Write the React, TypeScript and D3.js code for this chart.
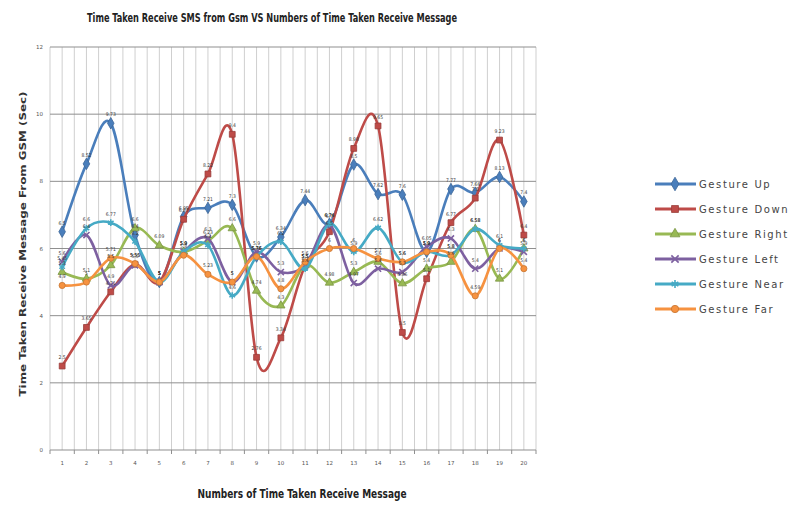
import React, { useEffect, useRef } from "react";
import * as d3 from "d3";

// x categories (message number)
const categories = ["1", "2", "3", "4", "5", "6", "7", "8", "9", "10", "11", "12", "13", "14", "15", "16", "17", "18", "19", "20"];
const yTicks = [0, 2, 4, 6, 8, 10, 12];

// time (sec)
const gestureUp = [6.5, 8.52, 9.73, 6.4, 5.0, 6.95, 7.21, 7.3, 5.76, 6.34, 7.44, 6.74, 8.5, 7.62, 7.6, 5.9, 7.77, 7.66, 8.13, 7.4];
const gestureDown = [2.5, 3.65, 4.71, 5.53, 5.0, 6.87, 8.22, 9.4, 2.76, 3.34, 5.5, 6.5, 8.98, 9.65, 3.5, 5.1, 6.77, 7.5, 9.23, 6.4];
const gestureRight = [5.3, 5.1, 5.5, 6.6, 6.09, 5.9, 6.23, 6.6, 4.74, 4.3, 5.5, 4.98, 5.3, 5.6, 4.96, 5.4, 5.6, 6.58, 5.1, 6.0];
const gestureLeft = [5.6, 6.4, 4.9, 5.5, 5.0, 5.9, 6.3, 5.0, 5.9, 5.3, 5.5, 6.7, 4.97, 5.4, 5.3, 6.05, 6.3, 5.4, 6.0, 5.9];
const gestureNear = [5.45, 6.6, 6.77, 6.2, 5.0, 5.9, 6.1, 4.6, 5.76, 6.2, 5.4, 6.74, 5.9, 6.62, 5.6, 5.9, 5.8, 6.58, 6.1, 6.0];
const gestureFar = [4.9, 5.0, 5.71, 5.55, 5.0, 5.8, 5.23, 5.0, 5.76, 4.8, 5.6, 6.0, 6.0, 5.7, 5.6, 5.9, 5.8, 4.59, 6.0, 5.4];

const seriesNames = ["Gesture Up", "Gesture Down", "Gesture Right", "Gesture Left", "Gesture Near", "Gesture Far"];
const seriesValues = [gestureUp, gestureDown, gestureRight, gestureLeft, gestureNear, gestureFar];
const seriesColors = ["#4a7ebb", "#be4b48", "#98b954", "#7d60a0", "#46aac5", "#f69240"];

const W = 810, H = 506;

const App = () => {
  const svgRef = useRef(null);

  useEffect(() => {
    const svg = d3.select(svgRef.current);
    svg.selectAll("*").remove();

    const x = d3.scaleBand().domain(categories).range([50, 536]);
    const y = d3.scaleLinear().domain([0, 12]).range([450, 47]);
    const cx = (i) => x(categories[i]) + x.bandwidth() / 2;

    const symbols = [d3.symbolDiamond, d3.symbolSquare, d3.symbolTriangle, d3.symbolX, d3.symbolAsterisk, d3.symbolCircle];
    const stroked = [false, false, false, true, true, false];
    const sizes = [38, 34, 30, 26, 30, 30];

    svg.append("rect").attr("width", W).attr("height", H).attr("fill", "#fff");

    // vertical grid: band edges and centres
    const grid = svg.append("g");
    const vx = [];
    categories.forEach((c, i) => { vx.push(x(c)); vx.push(cx(i)); });
    vx.push(x.range()[1]);
    grid.selectAll("line.v").data(vx).enter().append("line")
      .attr("x1", d => d).attr("x2", d => d)
      .attr("y1", y(12)).attr("y2", y(0))
      .attr("stroke", "#cfcfcf").attr("stroke-width", 1);

    grid.selectAll("line.h").data(yTicks).enter().append("line")
      .attr("x1", 50).attr("x2", 536)
      .attr("y1", d => y(d)).attr("y2", d => y(d))
      .attr("stroke", "#8f8f8f").attr("stroke-width", 1);

    // x axis ticks
    grid.selectAll("line.t").data(categories.map((c) => x(c)).concat([536])).enter().append("line")
      .attr("x1", d => d).attr("x2", d => d)
      .attr("y1", y(0)).attr("y2", y(0) + 4)
      .attr("stroke", "#8f8f8f");

    svg.append("g").selectAll("text").data(yTicks).enter().append("text")
      .attr("x", 43).attr("y", d => y(d) + 2)
      .attr("text-anchor", "end")
      .attr("font-family", "DejaVu Sans, sans-serif").attr("font-size", 5.5).attr("fill", "#555")
      .text(d => d);

    svg.append("g").selectAll("text").data(categories).enter().append("text")
      .attr("x", (d, i) => cx(i)).attr("y", 465)
      .attr("text-anchor", "middle")
      .attr("font-family", "DejaVu Sans, sans-serif").attr("font-size", 5.5).attr("fill", "#555")
      .text(d => d);

    const line = d3.line()
      .x((d, i) => cx(i))
      .y(d => y(d))
      .curve(d3.curveCardinal.tension(0));

    seriesValues.forEach((vals, s) => {
      const g = svg.append("g");
      g.append("path").attr("d", line(vals))
        .attr("fill", "none").attr("stroke", seriesColors[s]).attr("stroke-width", 2.6);
      g.selectAll("path.m").data(vals).enter().append("path")
        .attr("transform", (d, i) => `translate(${cx(i)},${y(d)})`)
        .attr("d", d3.symbol().type(symbols[s]).size(sizes[s]))
        .attr("fill", stroked[s] ? "none" : seriesColors[s])
        .attr("stroke", stroked[s] ? seriesColors[s] : d3.color(seriesColors[s]).darker(0.6))
        .attr("stroke-width", stroked[s] ? 1.6 : 0.8);
    });

    // data labels
    seriesValues.forEach((vals) => {
      svg.append("g").selectAll("text").data(vals).enter().append("text")
        .attr("x", (d, i) => cx(i)).attr("y", d => y(d) - 7)
        .attr("text-anchor", "middle")
        .attr("font-family", "DejaVu Sans Condensed, DejaVu Sans, sans-serif")
        .attr("font-size", 5).attr("fill", "#3a3a3a")
        .text(d => d);
    });

    svg.append("text")
      .attr("x", 272).attr("y", 22).attr("text-anchor", "middle")
      .attr("font-family", "Liberation Sans Narrow, DejaVu Sans Condensed, sans-serif")
      .attr("font-weight", "bold").attr("font-size", 12.5).attr("fill", "#222")
      .attr("textLength", 370).attr("lengthAdjust", "spacingAndGlyphs")
      .text("Time Taken Receive SMS from Gsm VS Numbers of Time Taken Receive Message");

    svg.append("text")
      .attr("x", 302).attr("y", 498).attr("text-anchor", "middle")
      .attr("font-family", "Liberation Sans Narrow, DejaVu Sans Condensed, sans-serif")
      .attr("font-weight", "bold").attr("font-size", 13).attr("fill", "#222")
      .attr("textLength", 209).attr("lengthAdjust", "spacingAndGlyphs")
      .text("Numbers of Time Taken Receive Message");

    svg.append("text")
      .attr("transform", "translate(26,244) rotate(-90)")
      .attr("text-anchor", "middle")
      .attr("font-family", "DejaVu Sans, sans-serif")
      .attr("font-weight", "bold").attr("font-size", 8.5).attr("fill", "#333")
      .attr("textLength", 305).attr("lengthAdjust", "spacingAndGlyphs")
      .text("Time Taken Receive Message From GSM (Sec)");

    // legend
    const leg = svg.append("g");
    seriesNames.forEach((name, s) => {
      const ly = 184 + s * 25;
      leg.append("line").attr("x1", 655).attr("x2", 696).attr("y1", ly).attr("y2", ly)
        .attr("stroke", seriesColors[s]).attr("stroke-width", 3);
      leg.append("path").attr("transform", `translate(675,${ly})`)
        .attr("d", d3.symbol().type(symbols[s]).size(sizes[s] * 1.4))
        .attr("fill", stroked[s] ? "none" : seriesColors[s])
        .attr("stroke", stroked[s] ? seriesColors[s] : d3.color(seriesColors[s]).darker(0.6))
        .attr("stroke-width", stroked[s] ? 1.6 : 0.8);
      leg.append("text").attr("x", 699).attr("y", ly + 3.5)
        .attr("font-family", "DejaVu Sans, sans-serif").attr("font-size", 10)
        .attr("letter-spacing", 1.6).attr("fill", "#444")
        .text(name);
    });
  }, []);

  return (
    <svg ref={svgRef} width={W} height={H} style={{ position: "absolute", left: 0, top: 0 }}></svg>
  );
};

export default App;
